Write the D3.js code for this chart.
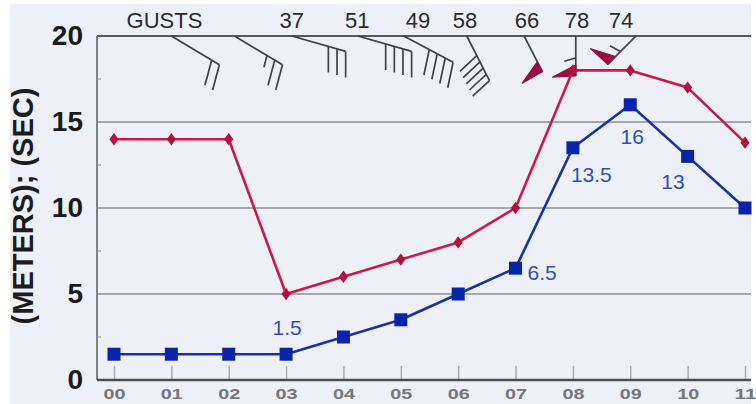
<!DOCTYPE html>
<html>
<head>
<meta charset="utf-8">
<script src="https://cdn.jsdelivr.net/npm/d3@7/dist/d3.min.js"></script>
<style>
  html, body { margin: 0; padding: 0; background: #ffffff; }
  svg { display: block; }
  text { font-family: "Liberation Sans", Arial, Helvetica, sans-serif; }
</style>
</head>
<body>
<svg id="chart" width="756" height="404"></svg>
<script>
// Hourly sea state
const hours = ["00", "01", "02", "03", "04", "05", "06", "07", "08", "09", "10", "11"];
const waveHeight = [1.5, 1.5, 1.5, 1.5, 2.5, 3.5, 5, 6.5, 13.5, 16, 13, 10];   // metres
const wavePeriod = [14, 14, 14, 5, 6, 7, 8, 10, 18, 18, 17, 13.8];           // seconds
const labelledHours = [3, 7, 8, 9, 10];                                     // height values written on the chart
const yTicks = [0, 5, 10, 15, 20];
const yMinorTicks = [2.5, 7.5, 12.5, 17.5];

// Wind barbs along the top edge
const windHours = [1.0, 2.1, 3.1, 4.25, 5.05, 6.15, 7.15, 8.05, 9.1];
const windFrom = [121, 121, 106, 106, 118, 153, 153, 180, 225];            // bearing, degrees
const barbPennants = [0, 0, 0, 0, 0, 0, 1, 1, 1];
const barbFull = [2, 2, 3, 4, 4, 5, 0, 0, 0];
const barbHalf = [0, 1, 0, 0, 0, 0, 0, 1, 1];
const gustHours = [3.1, 4.24, 5.3, 6.12, 7.2, 8.07, 8.84];
const gustValues = [37, 51, 49, 58, 66, 78, 74];

const svg = d3.select("#chart");
const W = 756, H = 404;
const plot = { left: 97, right: 751, top: 36, bottom: 380 };

const x = d3.scaleLinear().domain([0, 11]).range([114, 745]);
const y = d3.scaleLinear().domain([0, 20]).range([plot.bottom, plot.top]);

// paper
svg.append("rect").attr("width", W).attr("height", H).attr("fill", "#ffffff");
svg.append("rect").attr("x", 10).attr("y", 4).attr("width", 741).attr("height", H - 4)
  .attr("fill", "#edf0f7");

// horizontal grid
svg.append("g").selectAll("line").data(yTicks.filter(v => v > 0 && v < 20)).join("line")
  .attr("x1", plot.left).attr("x2", plot.right)
  .attr("y1", d => y(d)).attr("y2", d => y(d))
  .attr("stroke", "#8d9096").attr("stroke-width", 1.6);

// top frame line
svg.append("line").attr("x1", plot.left).attr("x2", plot.right)
  .attr("y1", y(20)).attr("y2", y(20))
  .attr("stroke", "#55585e").attr("stroke-width", 2);

// left axis line + minor ticks
svg.append("line").attr("x1", plot.left).attr("x2", plot.left)
  .attr("y1", y(20)).attr("y2", y(0))
  .attr("stroke", "#7d8086").attr("stroke-width", 2);
svg.append("g").selectAll("line").data(yMinorTicks).join("line")
  .attr("x1", plot.left).attr("x2", plot.left + 4)
  .attr("y1", d => y(d)).attr("y2", d => y(d))
  .attr("stroke", "#9a9da3").attr("stroke-width", 1.2);

// y axis labels
const yAxis = svg.append("g")
  .attr("transform", `translate(${plot.left},0)`)
  .call(d3.axisLeft(y).tickValues(yTicks).tickSize(0).tickPadding(14).tickFormat(d3.format("d")));
yAxis.select(".domain").remove();
yAxis.selectAll("text")
  .attr("font-family", "'Liberation Sans', Arial, sans-serif")
  .attr("font-size", 28).attr("font-weight", "bold").attr("fill", "#1a1a1c");

// y axis title
svg.append("text")
  .attr("transform", "translate(33,206) rotate(-90)")
  .attr("text-anchor", "middle")
  .attr("font-size", 29).attr("font-weight", "bold").attr("fill", "#1c1c1f")
  .text("(METERS); (SEC)");

// x axis
const xAxis = svg.append("g")
  .attr("transform", `translate(0,${plot.bottom})`)
  .call(d3.axisBottom(x).tickValues(d3.range(hours.length))
    .tickSizeInner(-14).tickSizeOuter(0).tickPadding(9)
    .tickFormat(i => hours[i]));
xAxis.select(".domain").remove();
xAxis.selectAll(".tick line").attr("stroke", "#a9acb2").attr("stroke-width", 1.5);
xAxis.selectAll("text")
  .attr("font-family", "'Liberation Sans', Arial, sans-serif")
  .attr("font-size", 14).attr("font-weight", "bold").attr("fill", "#74767c")
  .attr("textLength", 22).attr("lengthAdjust", "spacingAndGlyphs");

svg.append("line").attr("x1", plot.left).attr("x2", plot.right)
  .attr("y1", y(0)).attr("y2", y(0))
  .attr("stroke", "#4a4d53").attr("stroke-width", 2.5);

// top labels
svg.append("text").attr("x", x(0.88)).attr("y", 28).attr("text-anchor", "middle")
  .attr("font-size", 22).attr("fill", "#2a2a2d").text("GUSTS");
svg.append("g").selectAll("text").data(gustValues).join("text")
  .attr("x", (d, i) => x(gustHours[i])).attr("y", 28).attr("text-anchor", "middle")
  .attr("font-size", 22).attr("fill", "#2a2a2d").text(d => d);

// wind barbs
const rad = Math.PI / 180;
const barbs = svg.append("g");
windHours.forEach((h, i) => {
  const sx = x(h), sy = plot.top;
  const a = (windFrom[i] - 90) * rad;             // staff direction on screen
  const f = a + 74 * rad;                          // feather direction
  const u = [Math.cos(a), Math.sin(a)], v = [Math.cos(f), Math.sin(f)];
  const dense = barbFull[i] > 4;
  const L = barbPennants[i] ? 40 : (dense ? 50 : 56);
  const featherLen = dense ? 23 : 26;
  const ex = sx + u[0] * L, ey = sy + u[1] * L;
  barbs.append("line").attr("x1", sx).attr("y1", sy).attr("x2", ex).attr("y2", ey)
    .attr("stroke", "#3f4146").attr("stroke-width", 1.7);
  let pos = 0;
  for (let k = 0; k < barbPennants[i]; k++) {
    const p0 = [ex - u[0] * pos, ey - u[1] * pos];
    const p1 = [ex - u[0] * (pos + 11), ey - u[1] * (pos + 11)];
    const mid = [(p0[0] + p1[0]) / 2, (p0[1] + p1[1]) / 2];
    const tip = [mid[0] + v[0] * 24, mid[1] + v[1] * 24];
    barbs.append("path").attr("d", `M${p0}L${tip}L${p1}Z`)
      .attr("fill", "#9c0c40").attr("stroke", "#9c0c40").attr("stroke-width", 1.2)
      .attr("stroke-linejoin", "round");
    pos += 18;
  }
  for (let k = 0; k < barbFull[i]; k++) {
    const p = [ex - u[0] * pos, ey - u[1] * pos];
    barbs.append("line").attr("x1", p[0]).attr("y1", p[1])
      .attr("x2", p[0] + v[0] * featherLen).attr("y2", p[1] + v[1] * featherLen)
      .attr("stroke", "#3f4146").attr("stroke-width", 1.7);
    pos += dense ? 7 : 9;
  }
  for (let k = 0; k < barbHalf[i]; k++) {
    const p = [ex - u[0] * pos, ey - u[1] * pos];
    barbs.append("line").attr("x1", p[0]).attr("y1", p[1])
      .attr("x2", p[0] + v[0] * 12).attr("y2", p[1] + v[1] * 12)
      .attr("stroke", "#3f4146").attr("stroke-width", 1.7);
    pos += 9;
  }
});

// series lines
const line = d3.line().x((d, i) => x(i)).y(d => y(d));

svg.append("path").datum(wavePeriod).attr("d", line)
  .attr("fill", "none").attr("stroke", "#cc1848").attr("stroke-width", 2.6)
  .attr("stroke-linejoin", "round");
svg.append("g").selectAll("path").data(wavePeriod).join("path")
  .attr("d", d3.symbol(d3.symbolDiamond, 55))
  .attr("transform", (d, i) => `translate(${x(i)},${y(d)}) scale(1.15,0.9)`)
  .attr("fill", "#b3103f");

svg.append("path").datum(waveHeight).attr("d", line)
  .attr("fill", "none").attr("stroke", "#1732a2").attr("stroke-width", 2.6)
  .attr("stroke-linejoin", "round");
svg.append("g").selectAll("rect").data(waveHeight).join("rect")
  .attr("x", (d, i) => x(i) - 6.5).attr("y", d => y(d) - 6.5)
  .attr("width", 13).attr("height", 13).attr("fill", "#0b23a6");

// value labels on the height series
const labelPlace = {
  3: { dx: 1, dy: -19, anchor: "middle" },
  7: { dx: 12, dy: 12, anchor: "start" },
  8: { dx: -2, dy: 34, anchor: "start" },
  9: { dx: 2, dy: 39, anchor: "middle" },
  10: { dx: -3, dy: 33, anchor: "end" }
};
svg.append("g").selectAll("text").data(labelledHours).join("text")
  .attr("x", i => x(i) + labelPlace[i].dx)
  .attr("y", i => y(waveHeight[i]) + labelPlace[i].dy)
  .attr("text-anchor", i => labelPlace[i].anchor)
  .attr("font-size", 21).attr("fill", "#2f50b2")
  .text(i => waveHeight[i]);
</script>
</body>
</html>
